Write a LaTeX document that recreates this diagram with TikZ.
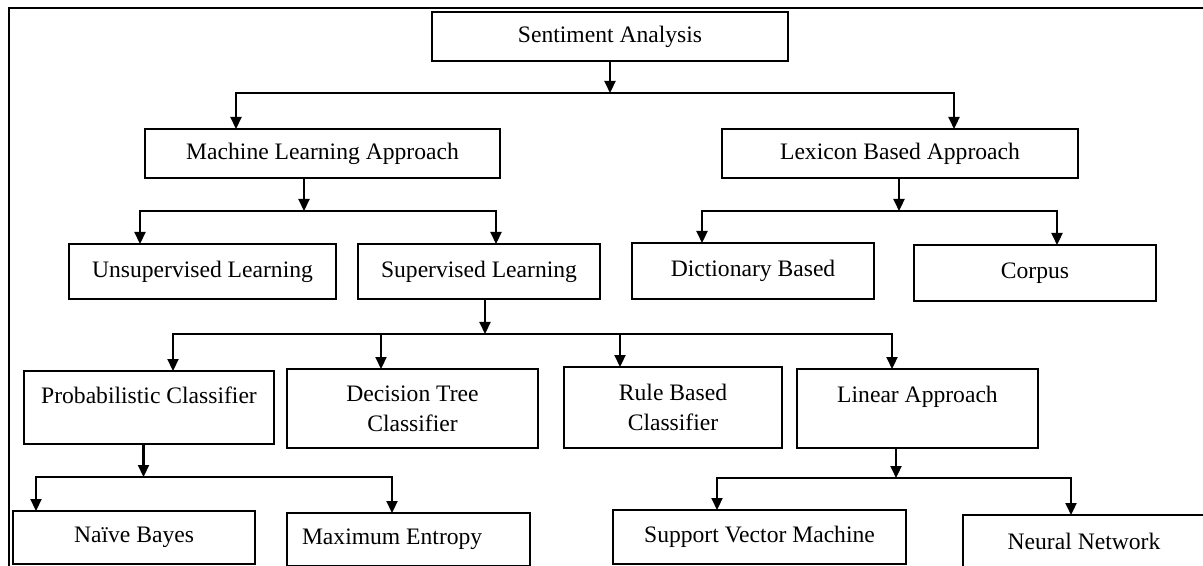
\documentclass[tikz,border=0pt]{standalone}
\usepackage{fontspec}
\setmainfont{Liberation Serif}
\usetikzlibrary{arrows.meta}
\begin{document}
\begin{tikzpicture}[x=0.5pt,y=-0.5pt,
  box/.style={draw, line width=1.1pt, inner sep=0pt, outer sep=0pt,
    font=\fontsize{11.8}{15}\selectfont, align=center},
  ln/.style={line width=1.1pt},
  arr/.style={line width=1.1pt, -{Triangle[length=6pt,width=5.5pt]}},
  arrtwo/.style={line width=1.1pt, {Triangle[length=6pt,width=5.5pt]}-{Triangle[length=6pt,width=5.5pt]}}]
\useasboundingbox (0,0) rectangle (1203,566);
\draw[ln] (9,8) rectangle (1240,600);

% nodes
\node[box, minimum width=178pt, minimum height=24.5pt] (sa) at (610,36.5) {Sentiment Analysis};
\node[box, minimum width=177.5pt, minimum height=24.5pt] (ml) at (322.5,153.5) {Machine Learning Approach};
\node[box, minimum width=178pt, minimum height=24.5pt] (lex) at (900,153.5) {Lexicon Based Approach};

\node[box, minimum width=133.5pt, minimum height=27.5pt] (unsup) at (202.5,271.5) {Unsupervised Learning};
\node[box, minimum width=121pt, minimum height=27.5pt] (sup) at (479,271.5) {Supervised Learning};
\node[box, minimum width=121pt, minimum height=28pt] (dict) at (753,271) {Dictionary Based};
\node[box, minimum width=121pt, minimum height=28pt] (corp) at (1035,273) {Corpus};

\node[box, minimum width=125pt, minimum height=36.5pt, text height=8pt, text depth=12pt] (prob) at (149,407.5) {Probabilistic Classifier};
\node[box, minimum width=125.5pt, minimum height=39.5pt] (dt) at (412.5,408.5) {Decision Tree\\Classifier};
\node[box, minimum width=109pt, minimum height=40.5pt] (rule) at (673,407.5) {Rule Based\\Classifier};
\node[box, minimum width=120.5pt, minimum height=39.5pt, text height=8pt, text depth=14pt] (lin) at (917.5,408.5) {Linear Approach};

\node[box, minimum width=121pt, minimum height=26.5pt] (nb) at (134,537.5) {Naïve Bayes};
\node[box, minimum height=26.5pt, inner xsep=7.5pt, text width=106.5pt, align=flush left] (me) at (408.5,539.5) {Maximum Entropy};
\node[box, minimum width=146.5pt, minimum height=27pt] (svm) at (759.5,537) {Support Vector Machine};
\node[box, minimum width=121pt, minimum height=26.5pt] (nn) at (1084,541.5) {Neural Network};

% junctions
\coordinate (j1) at (610,93);  \coordinate (j1l) at (236,93);  \coordinate (j1r) at (954,93);
\coordinate (j2) at (304,211); \coordinate (j2l) at (140,211); \coordinate (j2r) at (496,211);
\coordinate (j3) at (899,211); \coordinate (j3l) at (702,211); \coordinate (j3r) at (1057,211);
\coordinate (j4) at (485,334); \coordinate (j4l) at (173,334); \coordinate (j4r) at (892,334);
\coordinate (j4a) at (381,334); \coordinate (j4b) at (620,334);
\coordinate (j5) at (143.5,477); \coordinate (j5l) at (36,477); \coordinate (j5r) at (392,477);
\coordinate (j6) at (896,478); \coordinate (j6l) at (717,478); \coordinate (j6r) at (1071,478);

% connectors
\draw[arr] (sa.south -| j1) -- (j1);
\draw[arrtwo] (j1l |- ml.north) -- (j1l) -- (j1r) -- (j1r |- lex.north);

\draw[arr] (ml.south -| j2) -- (j2);
\draw[arrtwo] (j2l |- unsup.north) -- (j2l) -- (j2r) -- (j2r |- sup.north);

\draw[arr] (lex.south -| j3) -- (j3);
\draw[arrtwo] (j3l |- dict.north) -- (j3l) -- (j3r) -- (j3r |- corp.north);

\draw[arr] (sup.south -| j4) -- (j4);
\draw[arrtwo] (j4l |- prob.north) -- (j4l) -- (j4r) -- (j4r |- lin.north);
\draw[arr] (j4a) -- (j4a |- dt.north);
\draw[arr] (j4b) -- (j4b |- rule.north);

\draw[arr] (prob.south -| j5) -- (j5);
\draw[arrtwo] (j5l |- nb.north) -- (j5l) -- (j5r) -- (j5r |- me.north);

\draw[arr] (lin.south -| j6) -- (j6);
\draw[arrtwo] (j6l |- svm.north) -- (j6l) -- (j6r) -- (j6r |- nn.north);
\end{tikzpicture}
\end{document}
